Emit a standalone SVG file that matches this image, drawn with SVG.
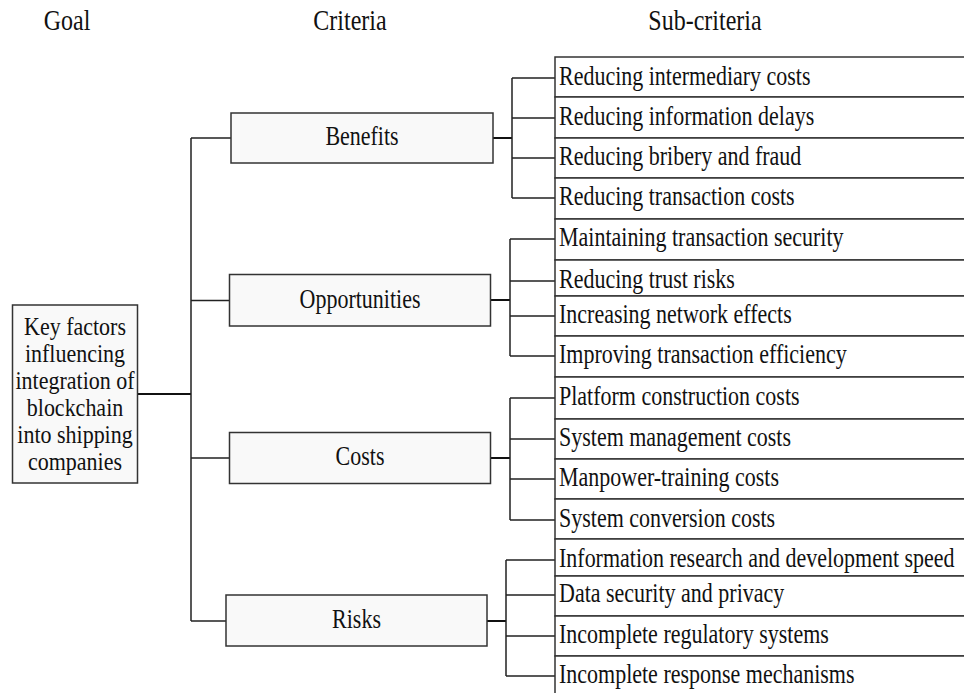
<svg xmlns="http://www.w3.org/2000/svg" width="964" height="693" viewBox="0 0 964 693">
<style>
text{font-family:"Liberation Serif","Times New Roman",serif;fill:#111;}
.h{font-size:24px;text-anchor:middle;}
.c{font-size:22px;text-anchor:middle;}
.s{font-size:22px;}
.box{fill:#f9f9f9;stroke:#333;stroke-width:1.5;}
.sub{fill:#fff;stroke:#333;stroke-width:1.5;}
.ln{fill:none;stroke:#222;stroke-width:1.5;}
.lt{fill:none;stroke:#111;stroke-width:2;}
</style>
<g id="headers">
<text class="h" transform="translate(67 30) scale(1 1.2)">Goal</text>
<text class="h" transform="translate(350 30) scale(1 1.2)">Criteria</text>
<text class="h" transform="translate(705 30) scale(1 1.2)">Sub-criteria</text>
</g>
<g id="connectors">
<path class="lt" d="M137.5 394H191"/>
<path class="ln" d="M191 138V621M191 138H231M191 300.5H229.5M191 458H229.5M191 621H226"/>
<path class="lt" d="M493 138H512M490.5 300H510M490.5 458H510M487 621H506"/>
<path class="ln" d="M512 78V198M512 78H555M512 118H555M512 158H555M512 198H555"/>
<path class="ln" d="M510 239V356M510 239H555M510 281H555M510 316H555M510 356H555"/>
<path class="ln" d="M510 398V520M510 398H555M510 439H555M510 479H555M510 520H555"/>
<path class="ln" d="M506 560V676M506 560H555M506 595H555M506 636H555M506 676H555"/>
</g>
<g id="goal">
<rect class="box" x="12.5" y="305" width="125" height="178"/>
<text class="c" transform="translate(75 335) scale(1 1.1)">Key factors</text>
<text class="c" transform="translate(75 362) scale(1 1.1)">influencing</text>
<text class="c" transform="translate(75 389) scale(1 1.1)">integration of</text>
<text class="c" transform="translate(75 416) scale(1 1.1)">blockchain</text>
<text class="c" transform="translate(75 443) scale(1 1.1)">into shipping</text>
<text class="c" transform="translate(75 470) scale(1 1.1)">companies</text>
</g>
<g id="benefits">
<rect class="box" x="231" y="113" width="262" height="50"/>
<text class="c" transform="translate(362 145) scale(1 1.2)">Benefits</text>
</g>
<g id="opportunities">
<rect class="box" x="229.5" y="274.5" width="261" height="51.5"/>
<text class="c" transform="translate(360 307.5) scale(1 1.2)">Opportunities</text>
</g>
<g id="costs">
<rect class="box" x="229.5" y="432.5" width="261" height="51"/>
<text class="c" transform="translate(360 465) scale(1 1.2)">Costs</text>
</g>
<g id="risks">
<rect class="box" x="226" y="595" width="261" height="51"/>
<text class="c" transform="translate(356.5 628) scale(1 1.2)">Risks</text>
</g>
<g id="sub-b1"><rect class="sub" x="555" y="57" width="420" height="40"/><text class="s" transform="translate(559 85) scale(1 1.2)">Reducing intermediary costs</text></g>
<g id="sub-b2"><rect class="sub" x="555" y="97" width="420" height="41"/><text class="s" transform="translate(559 125) scale(1 1.2)">Reducing information delays</text></g>
<g id="sub-b3"><rect class="sub" x="555" y="138" width="420" height="40"/><text class="s" transform="translate(559 165) scale(1 1.2)">Reducing bribery and fraud</text></g>
<g id="sub-b4"><rect class="sub" x="555" y="178" width="420" height="41"/><text class="s" transform="translate(559 205) scale(1 1.2)">Reducing transaction costs</text></g>
<g id="sub-o1"><rect class="sub" x="555" y="219" width="420" height="41"/><text class="s" transform="translate(559 246) scale(1 1.2)">Maintaining transaction security</text></g>
<g id="sub-o2"><rect class="sub" x="555" y="260" width="420" height="36"/><text class="s" transform="translate(559 288) scale(1 1.2)">Reducing trust risks</text></g>
<g id="sub-o3"><rect class="sub" x="555" y="296" width="420" height="40"/><text class="s" transform="translate(559 323) scale(1 1.2)">Increasing network effects</text></g>
<g id="sub-o4"><rect class="sub" x="555" y="336" width="420" height="41"/><text class="s" transform="translate(559 363) scale(1 1.2)">Improving transaction efficiency</text></g>
<g id="sub-c1"><rect class="sub" x="555" y="377" width="420" height="42"/><text class="s" transform="translate(559 405) scale(1 1.2)">Platform construction costs</text></g>
<g id="sub-c2"><rect class="sub" x="555" y="419" width="420" height="40"/><text class="s" transform="translate(559 446) scale(1 1.2)">System management costs</text></g>
<g id="sub-c3"><rect class="sub" x="555" y="459" width="420" height="40"/><text class="s" transform="translate(559 486) scale(1 1.2)">Manpower-training costs</text></g>
<g id="sub-c4"><rect class="sub" x="555" y="499" width="420" height="40"/><text class="s" transform="translate(559 527) scale(1 1.2)">System conversion costs</text></g>
<g id="sub-r1"><rect class="sub" x="555" y="539" width="420" height="37"/><text class="s" transform="translate(559 567) scale(1 1.2)">Information research and development speed</text></g>
<g id="sub-r2"><rect class="sub" x="555" y="576" width="420" height="40"/><text class="s" transform="translate(559 602) scale(1 1.2)">Data security and privacy</text></g>
<g id="sub-r3"><rect class="sub" x="555" y="616" width="420" height="40"/><text class="s" transform="translate(559 643) scale(1 1.2)">Incomplete regulatory systems</text></g>
<g id="sub-r4"><rect class="sub" x="555" y="656" width="420" height="50"/><text class="s" transform="translate(559 683) scale(1 1.2)">Incomplete response mechanisms</text></g>
</svg>
